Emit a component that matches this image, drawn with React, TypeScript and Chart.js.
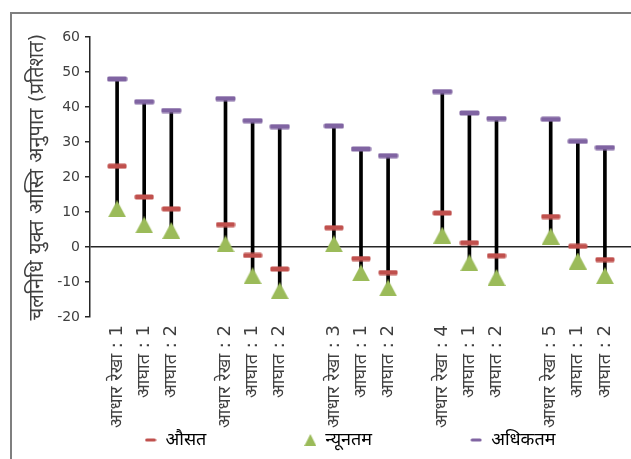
import { useEffect, useRef } from 'react';
import { Chart, registerables } from 'chart.js';

Chart.register(...registerables);

// Scenario categories; empty slots separate the five groups.
const categories = [
  '',
  'आधार रेखा : 1', 'आघात : 1', 'आघात : 2',
  '',
  'आधार रेखा : 2', 'आघात : 1', 'आघात : 2',
  '',
  'आधार रेखा : 3', 'आघात : 1', 'आघात : 2',
  '',
  'आधार रेखा : 4', 'आघात : 1', 'आघात : 2',
  '',
  'आधार रेखा : 5', 'आघात : 1', 'आघात : 2',
  '',
];

const meanValues = [
  null, 23.1, 14.3, 10.9,
  null, 6.4, -2.4, -6.3,
  null, 5.5, -3.3, -7.3,
  null, 9.7, 1.2, -2.5,
  null, 8.7, 0.2, -3.6,
  null,
];

const minValues = [
  null, 10.9, 6.3, 4.7,
  null, 0.9, -8.2, -12.5,
  null, 0.9, -7.4, -11.7,
  null, 3.4, -4.5, -8.7,
  null, 3.1, -4.0, -8.2,
  null,
];

const maxValues = [
  null, 48.0, 41.5, 39.0,
  null, 42.4, 36.1, 34.4,
  null, 34.6, 28.0, 26.1,
  null, 44.4, 38.3, 36.7,
  null, 36.5, 30.2, 28.4,
  null,
];

const seriesNames = ['औसत', 'न्यूनतम', 'अधिकतम'];
const yAxisTitle = 'चलनिधि युक्त आस्ति अनुपात (प्रतिशत)';
const yMin = -20;
const yMax = 60;
const yStep = 10;

const RED = '#C0504D';
const GREEN = '#9BBB59';
const PURPLE = '#8064A2';
const TEXT = '#404040';
const FONT = "'DejaVu Sans', 'Noto Sans', sans-serif";
const LEGEND_GAP = 98;

function dashMarker(w: number, h: number, color: string) {
  const c = document.createElement('canvas');
  c.width = w;
  c.height = h;
  const ctx = c.getContext('2d')!;
  ctx.fillStyle = color;
  ctx.beginPath();
  ctx.roundRect(0.5, 0.5, w - 1, h - 1, 1.5);
  ctx.fill();
  return c;
}

function triangleMarker(w: number, h: number, color: string) {
  const c = document.createElement('canvas');
  c.width = w;
  c.height = h;
  const ctx = c.getContext('2d')!;
  ctx.fillStyle = color;
  ctx.beginPath();
  ctx.moveTo(0, h);
  ctx.lineTo(w / 2, 0);
  ctx.lineTo(w, h);
  ctx.closePath();
  ctx.fill();
  return c;
}

// The legend keeps a wide gap between its entries; the same padding value
// also offsets the row downward, so pull the box top up to compensate.
const legendRowFix = {
  id: 'legendRowFix',
  afterLayout(chart: any) {
    const lg = chart.legend;
    if (lg) lg.top -= LEGEND_GAP;
  },
};

export default function App() {
  const canvasRef = useRef<HTMLCanvasElement | null>(null);

  useEffect(() => {
    const canvas = canvasRef.current;
    if (!canvas) return;

    const meanPoint = dashMarker(20, 6, RED);
    const minPoint = triangleMarker(18, 17, GREEN);
    const maxPoint = dashMarker(21, 6, PURPLE);
    const meanKey = dashMarker(12, 4, RED);
    const minKey = triangleMarker(12, 12, GREEN);
    const maxKey = dashMarker(12, 4, PURPLE);

    const ranges = categories.map((_, i) =>
      minValues[i] == null || maxValues[i] == null ? null : [minValues[i], maxValues[i]]
    );

    const chart = new Chart(canvas, {
      type: 'bar',
      data: {
        labels: categories,
        datasets: [
          {
            type: 'bar',
            label: 'range',
            data: ranges as any,
            backgroundColor: '#000000',
            borderWidth: 0,
            borderSkipped: false,
            barThickness: 3,
            order: 10,
          },
          {
            type: 'line',
            label: seriesNames[0],
            data: meanValues,
            showLine: false,
            pointStyle: meanPoint,
            pointRadius: 10,
            order: 2,
          },
          {
            type: 'line',
            label: seriesNames[1],
            data: minValues,
            showLine: false,
            pointStyle: minPoint,
            pointRadius: 10,
            order: 1,
          },
          {
            type: 'line',
            label: seriesNames[2],
            data: maxValues,
            showLine: false,
            pointStyle: maxPoint,
            pointRadius: 10,
            order: 1,
          },
        ] as any,
      },
      options: {
        responsive: false,
        animation: false,
        devicePixelRatio: 1,
        layout: { padding: { top: 37, left: 0, right: 0, bottom: 0 } },
        plugins: {
          tooltip: { enabled: false },
          legend: {
            position: 'bottom',
            maxHeight: 26,
            labels: {
              usePointStyle: true,
              boxWidth: 12,
              boxHeight: 12,
              padding: LEGEND_GAP,
              color: TEXT,
              font: { size: 18, family: FONT },
              generateLabels: () => {
                const keys = [meanKey, minKey, maxKey];
                const colors = [RED, GREEN, PURPLE];
                return seriesNames.map((name, i) => ({
                  text: name,
                  pointStyle: keys[i],
                  fillStyle: colors[i],
                  strokeStyle: colors[i],
                  lineWidth: 0,
                  hidden: false,
                  datasetIndex: i + 1,
                })) as any;
              },
            },
          },
        },
        scales: {
          x: {
            type: 'category',
            offset: false,
            grid: { display: false, offset: false },
            border: { display: false },
            ticks: {
              autoSkip: false,
              maxRotation: 90,
              minRotation: 90,
              padding: 0,
              color: TEXT,
              font: { size: 18, family: FONT },
            },
            afterFit: (scale: any) => {
              scale.height = 114;
            },
          },
          y: {
            position: 'left',
            min: yMin,
            max: yMax,
            ticks: {
              stepSize: yStep,
              padding: 5,
              color: TEXT,
              font: { size: 14, family: FONT },
            },
            grid: {
              drawOnChartArea: true,
              tickLength: 5,
              lineWidth: 1.5,
              color: (ctx: any) => (ctx.tick && ctx.tick.value === 0 ? '#262626' : 'rgba(0,0,0,0)'),
              tickColor: '#262626',
            },
            border: { display: true, color: '#262626', width: 1.5 },
            title: {
              display: true,
              text: yAxisTitle,
              color: TEXT,
              font: { size: 20, family: FONT },
              padding: { top: 26, bottom: 0 },
            },
            afterFit: (scale: any) => {
              scale.width = 90;
            },
          },
          spacer: {
            position: 'right',
            display: true,
            grid: { display: false },
            border: { display: false },
            ticks: { display: false },
            afterFit: (scale: any) => {
              scale.width = 68;
            },
          },
        },
      } as any,
      plugins: [legendRowFix],
    });

    return () => chart.destroy();
  }, []);

  return (
    <div
      style={{
        position: 'fixed',
        left: 0,
        top: 0,
        width: 631,
        height: 459,
        overflow: 'hidden',
        background: '#ffffff',
      }}
    >
      <div
        style={{
          position: 'absolute',
          left: 10,
          top: 12,
          width: 720,
          height: 520,
          border: '2px solid #7f7f7f',
        }}
      />
      <canvas
        ref={canvasRef}
        width={700}
        height={457}
        style={{ position: 'absolute', left: 0, top: 0, width: 700, height: 457 }}
      />
    </div>
  );
}
